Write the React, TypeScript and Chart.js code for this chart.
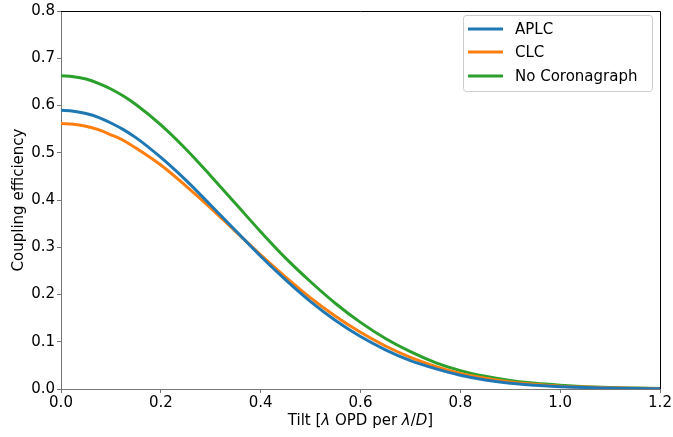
import React, { useEffect, useRef } from "react";
import { Chart, registerables } from "chart.js";

Chart.register(...registerables);

const FONT = "'DejaVu Sans', sans-serif";

const tilt = [0, 0.025, 0.05, 0.075, 0.1, 0.125, 0.15, 0.2, 0.25, 0.3, 0.35, 0.4, 0.45, 0.5, 0.55, 0.6, 0.65, 0.7, 0.75, 0.8, 0.85, 0.9, 0.95, 1.0, 1.05, 1.1, 1.15, 1.2];
const aplc = [0.59, 0.588, 0.583, 0.575, 0.563, 0.549, 0.532, 0.49, 0.442, 0.389, 0.335, 0.281, 0.231, 0.185, 0.145, 0.111, 0.083, 0.06, 0.043, 0.029, 0.019, 0.012, 0.008, 0.005, 0.003, 0.002, 0.001, 0.0007];
const clc = [0.562, 0.5605, 0.556, 0.549, 0.538, 0.526, 0.51, 0.474, 0.43, 0.383, 0.333, 0.284, 0.237, 0.193, 0.154, 0.12, 0.091, 0.067, 0.048, 0.033, 0.023, 0.015, 0.01, 0.006, 0.004, 0.0025, 0.0015, 0.001];
const noCoronagraph = [0.663, 0.661, 0.656, 0.647, 0.635, 0.62, 0.602, 0.559, 0.508, 0.451, 0.392, 0.333, 0.277, 0.227, 0.181, 0.141, 0.107, 0.079, 0.056, 0.039, 0.027, 0.018, 0.012, 0.008, 0.005, 0.003, 0.002, 0.001];

const seriesLabels = ["APLC", "CLC", "No Coronagraph"];
const seriesColors = ["#1f77b4", "#ff7f0e", "#2ca02c"];
const xTicks = [0, 0.2, 0.4, 0.6, 0.8, 1.0, 1.2];
const yTicks = [0, 0.1, 0.2, 0.3, 0.4, 0.5, 0.6, 0.7, 0.8];
const yTitle = "Coupling efficiency";
const xTitleParts: [string, boolean][] = [
  ["Tilt [", false],
  ["λ", true],
  [" OPD per ", false],
  ["λ", true],
  ["/", false],
  ["D", true],
  ["]", false],
];

const framePlugin = {
  id: "frame",
  afterDraw(chart: any) {
    const { ctx, chartArea } = chart;
    const { left, right, top, bottom } = chartArea;
    ctx.save();
    // top & right spines
    ctx.strokeStyle = "#000";
    ctx.lineWidth = 1;
    ctx.beginPath();
    ctx.moveTo(left, top + 0.5);
    ctx.lineTo(right + 0.5, top + 0.5);
    ctx.lineTo(right + 0.5, bottom);
    ctx.stroke();

    // legend
    const bx = 463, by = 15, bw = 189, bh = 76, r = 3;
    ctx.fillStyle = "rgba(255,255,255,0.8)";
    ctx.strokeStyle = "#cccccc";
    ctx.lineWidth = 1;
    ctx.beginPath();
    ctx.moveTo(bx + r, by + 0.5);
    ctx.lineTo(bx + bw - r, by + 0.5);
    ctx.arcTo(bx + bw + 0.5, by + 0.5, bx + bw + 0.5, by + r, r);
    ctx.lineTo(bx + bw + 0.5, by + bh - r);
    ctx.arcTo(bx + bw + 0.5, by + bh + 0.5, bx + bw - r, by + bh + 0.5, r);
    ctx.lineTo(bx + r, by + bh + 0.5);
    ctx.arcTo(bx + 0.5, by + bh + 0.5, bx + 0.5, by + bh - r, r);
    ctx.lineTo(bx + 0.5, by + r);
    ctx.arcTo(bx + 0.5, by + 0.5, bx + r, by + 0.5, r);
    ctx.closePath();
    ctx.fill();
    ctx.stroke();
    const rows = [29, 52, 76];
    chart.data.datasets.forEach((ds: any, i: number) => {
      const y = rows[i];
      ctx.strokeStyle = ds.borderColor;
      ctx.lineWidth = 3;
      ctx.beginPath();
      ctx.moveTo(468, y);
      ctx.lineTo(503, y);
      ctx.stroke();
      ctx.fillStyle = "#000";
      ctx.font = `15px ${FONT}`;
      ctx.textAlign = "left";
      ctx.textBaseline = "middle";
      ctx.fillText(ds.label, 515, y + 1);
    });

    // x axis title with italic math symbols
    const normal = `15px ${FONT}`;
    const italic = `oblique 15px ${FONT}`;
    let total = 0;
    for (const [t, it] of xTitleParts) {
      ctx.font = it ? italic : normal;
      total += ctx.measureText(t).width;
    }
    let x = (left + right) / 2 - total / 2;
    ctx.fillStyle = "#000";
    ctx.textAlign = "left";
    ctx.textBaseline = "middle";
    for (const [t, it] of xTitleParts) {
      ctx.font = it ? italic : normal;
      ctx.fillText(t, x, 421);
      x += ctx.measureText(t).width;
    }
    ctx.restore();
  },
};

export default function App() {
  const ref = useRef<HTMLCanvasElement>(null);
  useEffect(() => {
    if (!ref.current) return;
    const mk = (vals: number[]) => tilt.map((x, i) => ({ x, y: vals[i] }));
    const chart = new Chart(ref.current, {
      type: "line",
      data: {
        datasets: [aplc, clc, noCoronagraph].map((vals, i) => ({
          label: seriesLabels[i],
          data: mk(vals),
          borderColor: seriesColors[i],
          backgroundColor: seriesColors[i],
          borderWidth: 3,
          pointRadius: 0,
          cubicInterpolationMode: "monotone" as const,
          fill: false,
        })),
      },
      options: {
        animation: false,
        responsive: false,
        devicePixelRatio: 1,
        layout: { padding: { left: 0, right: 13, top: 7, bottom: 0 } },
        plugins: {
          legend: { display: false },
          tooltip: { enabled: false },
        },
        scales: {
          x: {
            type: "linear",
            min: 0,
            max: 1.2,
            afterBuildTicks: (axis: any) => {
              axis.ticks = xTicks.map((v) => ({ value: v }));
            },
            afterFit: (axis: any) => {
              axis.height = 48;
            },
            ticks: {
              font: { family: FONT, size: 15 },
              color: "#000",
              padding: 1,
              maxRotation: 0,
              autoSkip: false,
              callback: (v: any) => Number(v).toFixed(1),
            },
            grid: { display: true, drawOnChartArea: false, drawTicks: true, tickLength: 4, color: "#777" },
            border: { display: true, color: "#777", width: 1 },
            title: { display: false, text: "Tilt [λ OPD per λ/D]" },
          },
          y: {
            type: "linear",
            min: 0,
            max: 0.8,
            afterBuildTicks: (axis: any) => {
              axis.ticks = yTicks.map((v) => ({ value: v }));
            },
            afterFit: (axis: any) => {
              axis.width = 61;
            },
            ticks: {
              font: { family: FONT, size: 15 },
              color: "#000",
              padding: 2,
              autoSkip: false,
              callback: (v: any) => Number(v).toFixed(1),
            },
            grid: { display: true, drawOnChartArea: false, drawTicks: true, tickLength: 4, color: "#777" },
            border: { display: true, color: "#777", width: 1 },
            title: {
              display: true,
              text: yTitle,
              color: "#000",
              font: { family: FONT, size: 15 },
              padding: { top: 10, bottom: 0 },
            },
          },
        },
      },
      plugins: [framePlugin],
    });
    return () => chart.destroy();
  }, []);
  return (
    <div style={{ position: "absolute", left: 0, top: 0, width: 673, height: 437, background: "#fff" }}>
      <canvas ref={ref} width={673} height={437} />
    </div>
  );
}
